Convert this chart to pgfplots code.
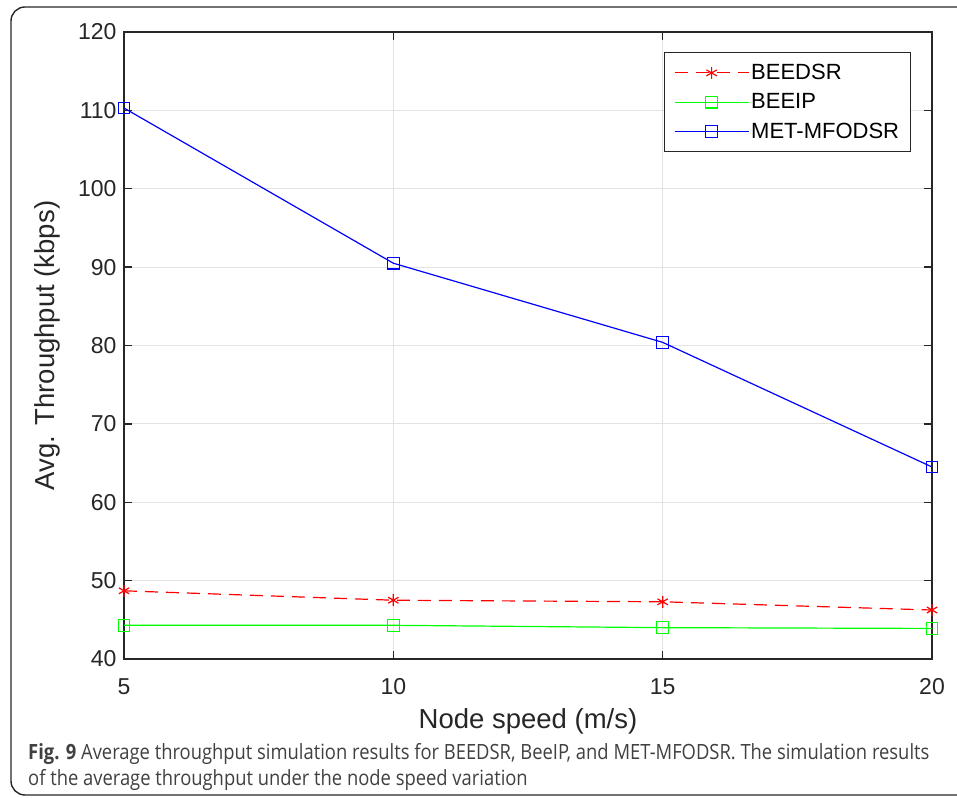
\documentclass[border=0pt]{standalone}
\usepackage{fontspec}
\setmainfont{Liberation Sans}
\newfontfamily\capfont[FakeStretch=0.875]{Open Sans}
\usepackage{pgfplots}
\pgfplotsset{compat=1.18}
\definecolor{axc}{HTML}{262626}
\definecolor{gridc}{HTML}{E3E3E3}
\definecolor{capc}{HTML}{404040}
\definecolor{mgreen}{HTML}{00FF00}
\definecolor{mblue}{HTML}{0000FF}
\definecolor{mred}{HTML}{FF0000}
\begin{document}
\begin{tikzpicture}
\useasboundingbox (0,0) rectangle (957pt,797pt);
\draw[line width=1.4pt, axc, rounded corners=14pt] (11pt,2pt) rectangle (990pt,790pt);
\begin{axis}[
  at={(124pt,138pt)}, anchor=south west,
  scale only axis, width=808pt, height=627pt,
  xmin=5, xmax=20, ymin=40, ymax=120,
  xtick={5,10,15,20}, ytick={40,50,...,120},
  grid=major, major grid style={gridc, line width=0.8pt},
  axis line style={axc, line width=1.3pt},
  tick style={axc, line width=1.3pt},
  major tick length=8pt,
  tick align=inside,
  /pgf/number format/assume math mode=true,
  ticklabel style={font=\fontsize{23}{27}\selectfont, text=axc},
  xticklabel style={yshift=-16pt},
  yticklabel style={xshift=-4pt},
  xlabel={Node speed (m/s)},
  ylabel={Avg. Throughput (kbps)},
  label style={font=\fontsize{27.5}{32}\selectfont, text=axc},
  xlabel style={yshift=-7pt},
  ylabel style={yshift=11pt},
  legend style={at={(0.974,0.968)}, anchor=north east, draw=axc, line width=0.8pt,
    font=\fontsize{22}{26}\selectfont, row sep=8.5pt, inner xsep=9.5pt, inner ysep=10pt,
    cells={anchor=west}},
  legend image code/.code={\draw[mark repeat=2,mark phase=2,#1] plot coordinates {(0pt,0pt) (37pt,0pt) (74pt,0pt)};},
]
\addplot[color=mred, line width=1.2pt, dash pattern=on 13pt off 8pt, mark=asterisk, mark size=6pt, mark options={solid, draw=mred, line width=1.2pt}]
  coordinates {(5,48.7) (10,47.5) (15,47.3) (20,46.25)};
\addlegendentry{BEEDSR}
\addplot[color=mgreen, line width=1.2pt, mark=square, mark size=5.8pt, mark options={solid, draw=mgreen, line width=1.2pt}]
  coordinates {(5,44.3) (10,44.3) (15,44.0) (20,43.9)};
\addlegendentry{BEEIP}
\addplot[color=mblue, line width=1.2pt, mark=square, mark size=5.8pt, mark options={solid, draw=mblue, line width=1.2pt}]
  coordinates {(5,110.3) (10,90.5) (15,80.4) (20,64.5)};
\addlegendentry{MET-MFODSR}
\end{axis}
\node[anchor=base west, inner sep=0pt, text=capc, font=\capfont\fontsize{21}{25}\selectfont] at (28pt,38pt)
  {\textbf{Fig. 9} Average throughput simulation results for BEEDSR, BeeIP, and MET-MFODSR. The simulation results};
\node[anchor=base west, inner sep=0pt, text=capc, font=\capfont\fontsize{21}{25}\selectfont] at (28pt,12pt)
  {of the average throughput under the node speed variation};
\end{tikzpicture}
\end{document}
